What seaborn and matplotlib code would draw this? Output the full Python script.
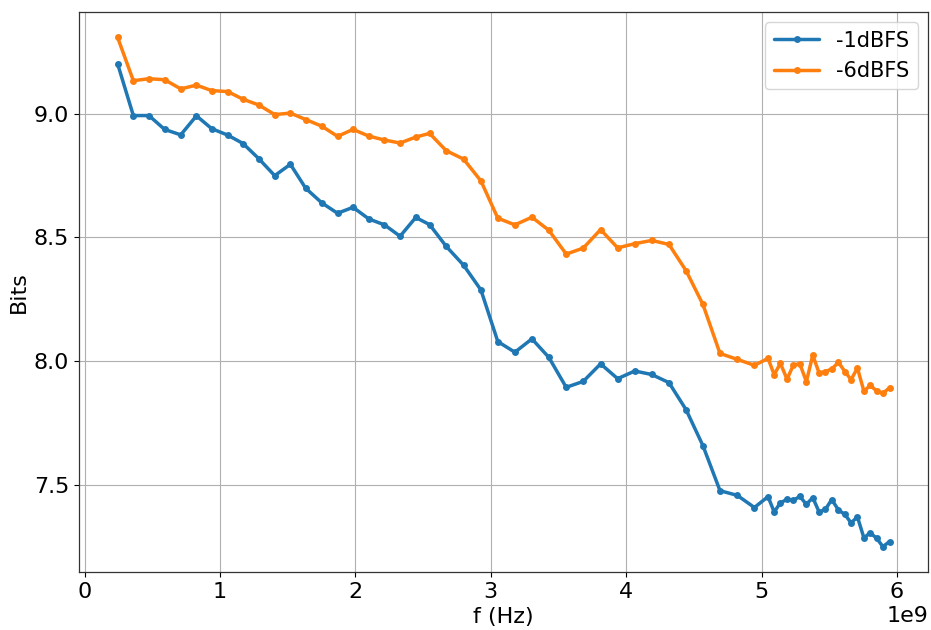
import numpy as np
import pandas as pd
import matplotlib
matplotlib.use("Agg")
import matplotlib.pyplot as plt
import seaborn as sns

freq_ghz = [0.244, 0.360, 0.475, 0.591, 0.710, 0.826, 0.939, 1.057, 1.170, 1.286,
            1.404, 1.520, 1.633, 1.752, 1.868, 1.983, 2.099, 2.215, 2.330, 2.446,
            2.548, 2.671, 2.799, 2.927, 3.052, 3.178, 3.304, 3.429, 3.557, 3.683,
            3.811, 3.937, 4.063, 4.188, 4.316, 4.442, 4.567, 4.693, 4.821, 4.947,
            5.048, 5.093, 5.139, 5.188, 5.235, 5.282, 5.331, 5.378, 5.425, 5.471,
            5.518, 5.568, 5.615, 5.661, 5.708, 5.756, 5.802, 5.849, 5.896, 5.945]

bits_1dbfs = [9.202, 8.993, 8.993, 8.937, 8.915, 8.992, 8.940, 8.914, 8.880, 8.819,
              8.750, 8.796, 8.699, 8.640, 8.598, 8.622, 8.575, 8.551, 8.505, 8.581,
              8.552, 8.464, 8.388, 8.288, 8.079, 8.036, 8.090, 8.015, 7.894, 7.918,
              7.989, 7.929, 7.960, 7.946, 7.913, 7.804, 7.658, 7.476, 7.457, 7.408,
              7.452, 7.390, 7.427, 7.441, 7.437, 7.453, 7.421, 7.448, 7.390, 7.400,
              7.440, 7.398, 7.380, 7.346, 7.370, 7.285, 7.306, 7.284, 7.250, 7.270]

bits_6dbfs = [9.309, 9.134, 9.142, 9.138, 9.101, 9.116, 9.094, 9.090, 9.059, 9.036,
              8.997, 9.003, 8.977, 8.950, 8.909, 8.937, 8.910, 8.894, 8.882, 8.906,
              8.921, 8.851, 8.817, 8.729, 8.578, 8.551, 8.582, 8.529, 8.433, 8.457,
              8.532, 8.458, 8.475, 8.488, 8.472, 8.366, 8.229, 8.031, 8.007, 7.983,
              8.011, 7.945, 7.991, 7.927, 7.984, 7.990, 7.917, 8.024, 7.952, 7.958,
              7.968, 7.995, 7.958, 7.925, 7.972, 7.878, 7.902, 7.880, 7.870, 7.892]

series_names = ["-1dBFS", "-6dBFS"]
colors = ["#1f77b4", "#ff7f0e"]

freq_hz = np.array(freq_ghz) * 1e9
df = pd.concat([
    pd.DataFrame({"f": freq_hz, "bits": bits_1dbfs, "level": series_names[0]}),
    pd.DataFrame({"f": freq_hz, "bits": bits_6dbfs, "level": series_names[1]}),
], ignore_index=True)

sns.set_style("ticks")
plt.rcParams["font.family"] = ["DejaVu Sans"]
plt.rcParams.update({"text.color": "black", "axes.labelcolor": "black",
                     "xtick.color": "black", "ytick.color": "black"})

fig = plt.figure(figsize=(9.31, 6.30), dpi=100)
ax = fig.add_axes([0.0849, 0.092, 0.912, 0.889])

sns.lineplot(data=df, x="f", y="bits", hue="level", palette=colors,
             marker="o", markersize=5, markeredgewidth=0, linewidth=2.5,
             ax=ax, sort=False)

ax.grid(True, color="#b0b0b0", linewidth=0.8)
ax.set_axisbelow(True)
ax.set_xlabel("f (Hz)", fontsize=16)
ax.set_ylabel("Bits", fontsize=16)
ax.tick_params(labelsize=16, direction="out", length=3.5, width=0.8)
ax.xaxis.get_offset_text().set_fontsize(16)
ax.set_yticks([7.5, 8.0, 8.5, 9.0])
for s in ax.spines.values():
    s.set_color("#333333")
    s.set_linewidth(0.9)

leg = ax.legend(loc="upper right", fontsize=15, frameon=True, handlelength=2.2)
leg.set_title(None)

fig.savefig("out.png", dpi=100)
